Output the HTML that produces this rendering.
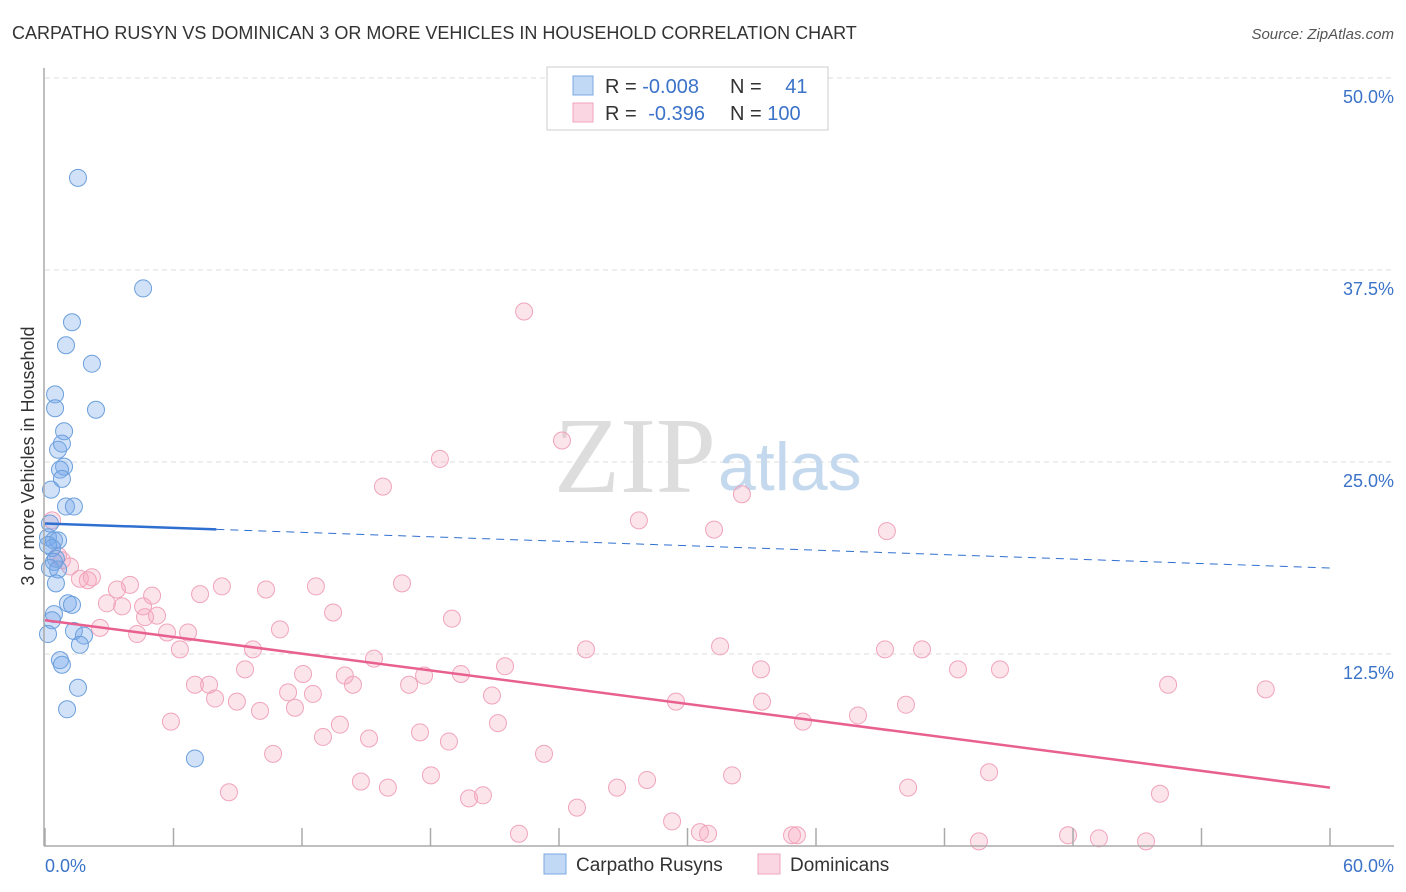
<!DOCTYPE html>
<html><head><meta charset="utf-8"><style>
body{margin:0;background:#fff;font-family:"Liberation Sans",sans-serif;}
svg{display:block}
</style></head><body>
<svg id="chart" width="1406" height="892" font-family="Liberation Sans, sans-serif">
<text x="12" y="39" font-size="18" fill="#333">CARPATHO RUSYN VS DOMINICAN 3 OR MORE VEHICLES IN HOUSEHOLD CORRELATION CHART</text>
<text x="1394" y="39" font-size="15" fill="#555" text-anchor="end" font-style="italic">Source: ZipAtlas.com</text>
<text transform="translate(34,456) rotate(-90)" font-size="18" fill="#333" text-anchor="middle">3 or more Vehicles in Household</text>
<g id="grid"></g>
<text x="716" y="492" font-size="108" fill="#ddd" text-anchor="end" font-family="Liberation Serif, serif">ZIP</text>
<text x="718" y="490" font-size="68" fill="#c5d9ee">atlas</text>
<g id="pts"></g>
<g id="lines"></g>
<g id="axes"></g>
<g>
<rect x="547" y="67" width="281" height="63" fill="#fff" stroke="#ccc"/>
<rect x="573" y="76" width="20" height="19" fill="rgba(120,170,235,0.45)" stroke="#7aa8e0"/>
<rect x="573" y="103" width="20" height="19" fill="rgba(245,165,190,0.45)" stroke="#f0a4bc"/>
<text x="605" y="93" font-size="20" fill="#333">R = <tspan fill="#3b73c8">-0.008</tspan></text>
<text x="730" y="93" font-size="20" fill="#333">N = <tspan fill="#3b73c8" dx="18">41</tspan></text>
<text x="605" y="120" font-size="20" fill="#333">R = <tspan fill="#3b73c8" dx="6">-0.396</tspan></text>
<text x="730" y="120" font-size="20" fill="#333">N = <tspan fill="#3b73c8">100</tspan></text>
</g>
<g>
<rect x="544" y="854" width="22" height="20" fill="rgba(120,170,235,0.45)" stroke="#7aa8e0"/>
<text x="576" y="871" font-size="19" fill="#333">Carpatho Rusyns</text>
<rect x="758" y="854" width="22" height="20" fill="rgba(245,165,190,0.45)" stroke="#f0a4bc"/>
<text x="790" y="871" font-size="19" fill="#333">Dominicans</text>
</g>
</svg>
<script>
const blueX=[1.54,4.58,1.26,0.98,2.19,0.47,0.47,2.38,0.89,0.61,0.79,0.89,0.70,0.79,0.28,0.98,1.35,0.23,0.14,0.42,0.61,0.33,0.51,0.42,0.23,0.61,0.51,1.07,1.26,0.42,0.33,1.35,1.82,1.63,0.14,0.70,0.79,1.54,1.03,7.0,0.14];
const blueY=[43.5,36.3,34.1,32.6,31.4,29.4,28.5,28.4,27.0,25.8,26.2,24.7,24.5,23.9,23.2,22.1,22.1,21.0,20.1,19.9,19.9,19.4,18.7,18.5,18.1,18.0,17.1,15.8,15.7,15.1,14.7,14.0,13.7,13.1,13.8,12.1,11.8,10.3,8.9,5.7,19.6];
const pinkX=[22.37,24.14,18.44,15.78,32.54,27.73,31.24,39.31,0.33,0.61,1.17,1.63,2.19,2.0,0.79,3.97,3.36,4.58,5.0,2.89,3.6,8.26,7.24,10.32,12.65,16.67,13.45,5.23,4.67,6.68,4.3,5.7,2.57,6.3,10.97,9.71,15.36,19.0,25.26,31.52,39.22,40.95,21.48,19.42,17.7,12.05,9.34,14.0,14.38,17.0,7.0,7.66,11.35,12.51,20.87,29.46,33.43,42.63,44.59,52.44,57.0,5.88,7.94,8.96,10.04,11.67,13.77,15.13,17.51,18.86,21.15,33.48,35.39,37.96,40.2,10.65,12.98,23.3,14.75,16.01,18.02,19.8,20.45,26.71,28.11,32.08,40.3,44.08,8.59,24.84,52.06,22.13,29.28,30.58,30.96,34.88,35.11,43.61,47.77,49.21,51.41];
const pinkY=[34.8,26.4,25.2,23.4,22.9,21.2,20.6,20.5,21.2,18.9,18.2,17.4,17.5,17.3,18.6,17.0,16.7,15.6,16.3,15.8,15.6,16.9,16.4,16.7,16.9,17.1,15.2,15.0,14.9,13.9,13.8,13.9,14.2,12.8,14.1,12.8,12.2,14.8,12.8,13.0,12.8,12.8,11.7,11.2,11.1,11.2,11.5,11.1,10.5,10.5,10.5,10.5,10.0,9.9,9.8,9.4,11.5,11.5,11.5,10.5,10.2,8.1,9.6,9.4,8.8,9.0,7.9,7.0,7.4,6.8,8.0,9.4,8.1,8.5,9.2,6.0,7.1,6.0,4.2,3.8,4.6,3.1,3.3,3.8,4.3,4.6,3.8,4.8,3.5,2.5,3.4,0.8,1.6,0.9,0.8,0.7,0.7,0.3,0.7,0.5,0.3];
const yTicks=[12.5,25.0,37.5,50.0];
const xTickLabels=["0.0%","60.0%"];
const blueTrend=[21.0,18.1];
const pinkTrend=[14.7,3.8];
const NS="http://www.w3.org/2000/svg";
const sx=v=>45+v/60*1285;
const sy=v=>846-v/12.5*192;
function mk(t,a,p){const e=document.createElementNS(NS,t);for(const k in a)e.setAttribute(k,a[k]);p.appendChild(e);return e;}
const grid=document.getElementById('grid');
yTicks.forEach(t=>{
 const l=mk('line',{x1:45,x2:1394,y1:sy(t),y2:sy(t),stroke:'#ddd','stroke-dasharray':'5,4'},grid);
 
 
 const tx=mk('text',{x:1394,y:sy(t)+25,'font-size':18,fill:'#3b73c8','text-anchor':'end'},grid);
 tx.textContent=t.toFixed(1)+'%';
 
 
});
const ax=document.getElementById('axes');
mk('line',{x1:44,x2:44,y1:68,y2:846,stroke:'#aaa','stroke-width':1.5},ax);
mk('line',{x1:44,x2:1394,y1:846,y2:846,stroke:'#aaa','stroke-width':1.5},ax);
for(let i=0;i<=10;i++){mk('line',{x1:sx(i*6),x2:sx(i*6),y1:828,y2:846,stroke:'#aaa','stroke-width':1.5},ax);}
const x0=mk('text',{x:45,y:872,'font-size':18,fill:'#3b73c8'},ax);x0.textContent=xTickLabels[0];


const x1=mk('text',{x:1394,y:872,'font-size':18,fill:'#3b73c8','text-anchor':'end'},ax);x1.textContent=xTickLabels[1];


const pts=document.getElementById('pts');
pinkX.forEach((x,i)=>{const c=mk('circle',{cx:sx(x),cy:sy(pinkY[i]),r:8.5,fill:'rgba(245,165,190,0.3)',stroke:'#f0a4bc','stroke-width':1},pts);
 
 });
blueX.forEach((x,i)=>{const c=mk('circle',{cx:sx(x),cy:sy(blueY[i]),r:8.5,fill:'rgba(120,170,235,0.35)',stroke:'#6b9fdc','stroke-width':1},pts);
 
 });
const ln=document.getElementById('lines');
const bAt=x=>blueTrend[0]+(blueTrend[1]-blueTrend[0])*x/60;
const b1=mk('line',{x1:sx(0),y1:sy(bAt(0)),x2:sx(8),y2:sy(bAt(8)),stroke:'#2f6fd0','stroke-width':2.5},ln);


const b2=mk('line',{x1:sx(8),y1:sy(bAt(8)),x2:sx(60),y2:sy(bAt(60)),stroke:'#2f6fd0','stroke-width':1,'stroke-dasharray':'8,6'},ln);


const p1=mk('line',{x1:sx(0),y1:sy(pinkTrend[0]),x2:sx(60),y2:sy(pinkTrend[1]),stroke:'#e8608f','stroke-width':2.5},ln);


</script>
</body></html>
